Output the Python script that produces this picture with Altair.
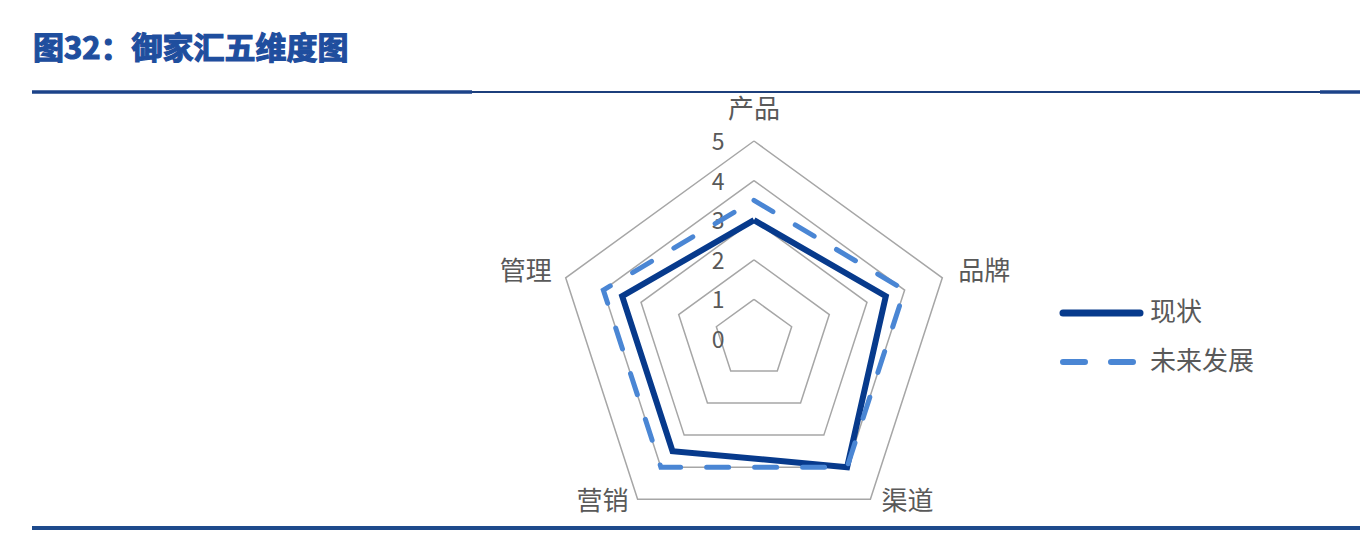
import altair as alt
import pandas as pd

# ---------------- data ----------------
categories = ["产品", "品牌", "渠道", "营销", "管理"]
current_vals = [3, 3.5, 4, 3.5, 3.5]
future_vals = [3.5, 4, 4, 4, 4]
series_names = ["现状", "未来发展"]
ring_levels = [1, 2, 3, 4, 5]
tick_labels = ["0", "1", "2", "3", "4", "5"]
title_text = "图32：御家汇五维度图"

# ---------------- layout constants ----------------
W, H = 1352, 522
CX, CY, UNIT = 746, 331, 39.6
xdom = [-CX / UNIT, (W - CX) / UNIT]
ydom = [-(H - CY) / UNIT, CY / UNIT]
N = len(categories)

GRAY_TXT = "#595959"
FONT = "Noto Sans CJK SC"


def poly(values, key):
    rows = []
    for k in range(N + 1):
        i = k % N
        rows.append({"key": key, "cat": categories[i], "idx": i, "ord": k, "value": values[i]})
    return rows


ring_rows = []
for lv in ring_levels:
    ring_rows += poly([lv] * N, str(lv))
ring_df = pd.DataFrame(ring_rows)
cur_df = pd.DataFrame(poly(current_vals, series_names[0]))
fut_df = pd.DataFrame(poly(future_vals, series_names[1]))
tick_df = pd.DataFrame({"label": tick_labels, "value": [float(t) for t in tick_labels], "idx": 0})

xs = alt.Scale(domain=xdom, nice=False, zero=False)
ys = alt.Scale(domain=ydom, nice=False, zero=False)


def polar(ch):
    return ch.transform_calculate(
        px="datum.value * sin(2 * PI * datum.idx / 5)",
        py="datum.value * cos(2 * PI * datum.idx / 5)",
    )


def xy():
    return dict(
        x=alt.X("px:Q", scale=xs, axis=None),
        y=alt.Y("py:Q", scale=ys, axis=None),
    )


rings = polar(alt.Chart(ring_df).mark_line(color="#a6a6a6", strokeWidth=1.5)).encode(
    detail="key:N", order="ord:Q", **xy()
)

ticks = polar(
    alt.Chart(tick_df).mark_text(font=FONT, fontSize=23, color=GRAY_TXT, dx=-36, dy=2, align="center", baseline="middle")
).encode(text="label:N", **xy())

cur_line = polar(
    alt.Chart(cur_df).mark_line(color="#073a8c", strokeWidth=6, strokeJoin="miter")
).encode(order="ord:Q", **xy())

fut_line = polar(
    alt.Chart(fut_df).mark_line(color="#4a86d4", strokeWidth=5, strokeDash=[22, 26], strokeCap="round")
).encode(order="ord:Q", **xy())

label_offsets = [(0, -31), (42, -6), (37, 3), (-35, 3), (-40, -6)]
cat_layers = []
for i, c in enumerate(categories):
    d = pd.DataFrame({"cat": [c], "idx": [i], "value": [ring_levels[-1]]})
    dx, dy = label_offsets[i]
    cat_layers.append(
        polar(
            alt.Chart(d).mark_text(font=FONT, fontSize=26, color=GRAY_TXT, dx=dx, dy=dy,
                                   align="center", baseline="middle")
        ).encode(text="cat:N", **xy())
    )

one = alt.Data(values=[{"a": 1}])


def rule(x1, x2, y, w, color):
    return alt.Chart(one).mark_rule(color=color, strokeWidth=w).encode(
        x=alt.value(x1), x2=alt.value(x2), y=alt.value(y)
    )


def text(t, x, y, **kw):
    return alt.Chart(one).mark_text(**kw).encode(x=alt.value(x), y=alt.value(y), text=alt.value(t))


decor = [
    rule(24, W, 84, 2, "#1c3f7c"),
    rule(24, 464, 84, 3.5, "#1c4389"),
    rule(1312, W, 84, 3.5, "#1c4389"),
    rule(24, W, 520, 4, "#1e4a8c"),
    text(title_text, 25, 42, font=FONT, fontSize=31, fontWeight="bold", color="#1f4e9e",
         stroke="#1f4e9e", strokeWidth=1.2, align="left", baseline="middle"),
]

legend = [
    alt.Chart(one).mark_rule(color="#073a8c", strokeWidth=7, strokeCap="round").encode(
        x=alt.value(1055), x2=alt.value(1132), y=alt.value(305)
    ),
    alt.Chart(one).mark_rule(color="#4a86d4", strokeWidth=6, strokeCap="round", strokeDash=[22, 26]).encode(
        x=alt.value(1055), x2=alt.value(1132), y=alt.value(354)
    ),
    text(series_names[0], 1142, 305, font=FONT, fontSize=26, color=GRAY_TXT, align="left", baseline="middle"),
    text(series_names[1], 1142, 354, font=FONT, fontSize=26, color=GRAY_TXT, align="left", baseline="middle"),
]

chart = alt.layer(rings, ticks, cur_line, fut_line, *cat_layers, *decor, *legend).properties(
    width=W, height=H, padding=0, autosize=alt.AutoSizeParams(type="none"), background="white"
).configure_view(stroke=None)

chart.save("out.html", embed_options={"renderer": "svg", "actions": False})
